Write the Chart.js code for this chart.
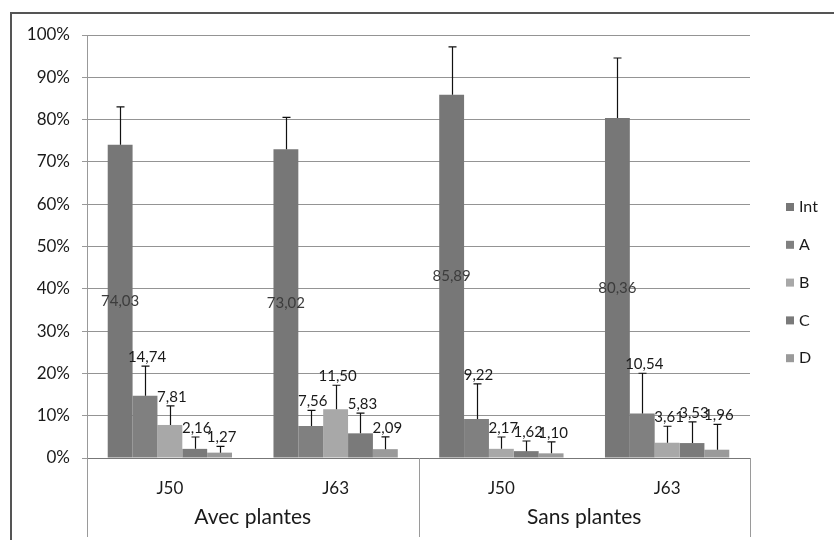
<!DOCTYPE html>
<html><head><meta charset="utf-8">
<script src="https://cdn.jsdelivr.net/npm/chart.js@4"></script>
<style>html,body{margin:0;padding:0;background:#fff}#wrap{width:834px;height:540px}</style>
</head><body><div id="wrap"><canvas id="c" width="834" height="540"></canvas></div>
<script>
// ---- data ----
const categories = ['J50', 'J63', 'J50', 'J63'];
const groups = ['Avec plantes', 'Sans plantes'];
const seriesNames = ['Int', 'A', 'B', 'C', 'D'];
const intValues = [74.03, 73.02, 85.89, 80.36];
const aValues = [14.74, 7.56, 9.22, 10.54];
const bValues = [7.81, 11.50, 2.17, 3.61];
const cValues = [2.16, 5.83, 1.62, 3.53];
const dValues = [1.27, 2.09, 1.10, 1.96];
const intErr = [9.0, 7.5, 11.3, 14.2];
const aErr = [7.0, 3.7, 8.3, 9.5];
const bErr = [4.5, 5.7, 2.8, 3.9];
const cErr = [2.8, 4.8, 2.4, 5.0];
const dErr = [1.5, 2.9, 2.7, 6.0];
const yTicks = [0, 10, 20, 30, 40, 50, 60, 70, 80, 90, 100];

// ---- styles ----
const colors = ['#777777', '#808080', '#a8a8a8', '#7a7a7a', '#9a9a9a'];
const FONT = 'Lato, "Open Sans", sans-serif';
const allValues = [intValues, aValues, bValues, cValues, dValues];
const allErr = [intErr, aErr, bErr, cErr, dErr];
const fmt = v => v.toFixed(2).replace('.', ',');

const extras = {
  id: 'extras',
  beforeDraw(chart) {
    const ctx = chart.ctx;
    ctx.save(); ctx.fillStyle = '#fff'; ctx.fillRect(0, 0, chart.width, chart.height); ctx.restore();
  },
  afterDatasetsDraw(chart) {
    const ctx = chart.ctx, ys = chart.scales.y;
    ctx.save();
    chart.data.datasets.forEach((ds, di) => {
      const meta = chart.getDatasetMeta(di);
      meta.data.forEach((bar, i) => {
        const v = ds.data[i], e = allErr[di][i];
        const yTop = ys.getPixelForValue(v + e);
        const x = Math.round(bar.x) + 0.5;
        ctx.strokeStyle = '#111'; ctx.lineWidth = 1.2;
        ctx.beginPath();
        ctx.moveTo(x, bar.y); ctx.lineTo(x, yTop);
        ctx.moveTo(x - 4, yTop); ctx.lineTo(x + 4, yTop);
        ctx.stroke();
      });
    });
    ctx.font = '15px ' + FONT; ctx.textAlign = 'center'; ctx.textBaseline = 'middle';
    chart.data.datasets.forEach((ds, di) => {
      const meta = chart.getDatasetMeta(di);
      meta.data.forEach((bar, i) => {
        const v = ds.data[i], e = allErr[di][i];
        if (di === 0) {
          ctx.fillStyle = '#3c3c3c';
          ctx.fillText(fmt(v), bar.x, ys.getPixelForValue(v / 2));
        } else {
          ctx.fillStyle = '#1a1a1a';
          ctx.fillText(fmt(v), bar.x + 2, ys.getPixelForValue(v + e) - 9);
        }
      });
    });
    ctx.restore();
  },
  afterDraw(chart) {
    const ctx = chart.ctx, xs = chart.scales.x, a = chart.chartArea;
    ctx.save();
    // category dividers
    ctx.strokeStyle = '#9a9a9a'; ctx.lineWidth = 1;
    const mid = (xs.getPixelForValue(1) + xs.getPixelForValue(2)) / 2;
    [a.left, mid, a.right].forEach(px => {
      const x = Math.round(px) + 0.5;
      ctx.beginPath(); ctx.moveTo(x, a.bottom); ctx.lineTo(x, 537); ctx.stroke();
    });
    // group labels
    ctx.fillStyle = '#1a1a1a'; ctx.font = '21px ' + FONT;
    ctx.textAlign = 'center'; ctx.textBaseline = 'middle';
    groups.forEach((g, gi) => {
      const cx = (xs.getPixelForValue(gi * 2) + xs.getPixelForValue(gi * 2 + 1)) / 2;
      ctx.fillText(g, cx, 517);
    });
    // legend
    ctx.font = '16px ' + FONT; ctx.textAlign = 'left';
    const ly0 = 207, step = 37.8;
    chart.data.datasets.forEach((ds, di) => {
      const ly = ly0 + di * step;
      ctx.fillStyle = ds.backgroundColor;
      ctx.fillRect(786, ly - 4, 8, 8);
      ctx.fillStyle = '#1a1a1a';
      ctx.fillText(ds.label, 799, ly);
    });
    // outer frame (left and top)
    ctx.strokeStyle = '#555'; ctx.lineWidth = 2;
    ctx.beginPath(); ctx.moveTo(11, 540); ctx.lineTo(11, 13); ctx.lineTo(834, 13); ctx.stroke();
    ctx.restore();
  }
};

new Chart(document.getElementById('c'), {
  type: 'bar',
  data: {
    labels: categories,
    datasets: seriesNames.map((n, i) => ({
      label: n, data: allValues[i], backgroundColor: colors[i],
      categoryPercentage: 0.75, barPercentage: 1.0, borderWidth: 0
    }))
  },
  options: {
    responsive: false, animation: false,
    layout: { padding: { top: 35, right: 84, bottom: 0, left: 0 } },
    plugins: { legend: { display: false }, tooltip: { enabled: false } },
    scales: {
      x: {
        grid: { display: false },
        border: { display: true, color: '#777', width: 1 },
        ticks: { color: '#1a1a1a', font: { family: FONT, size: 17 }, padding: 12 },
        afterFit: s => { s.height = 82; }
      },
      y: {
        min: 0, max: 100,
        afterBuildTicks: s => { s.ticks = yTicks.map(v => ({ value: v })); },
        grid: { color: '#949494', lineWidth: 1, tickLength: 5, tickColor: '#999' },
        border: { display: true, color: '#999', width: 1 },
        ticks: { color: '#1a1a1a', font: { family: FONT, size: 17 }, padding: 12, callback: v => v + '%' },
        afterFit: s => { s.width = 87; }
      }
    }
  },
  plugins: [extras]
});
</script>
</body></html>
